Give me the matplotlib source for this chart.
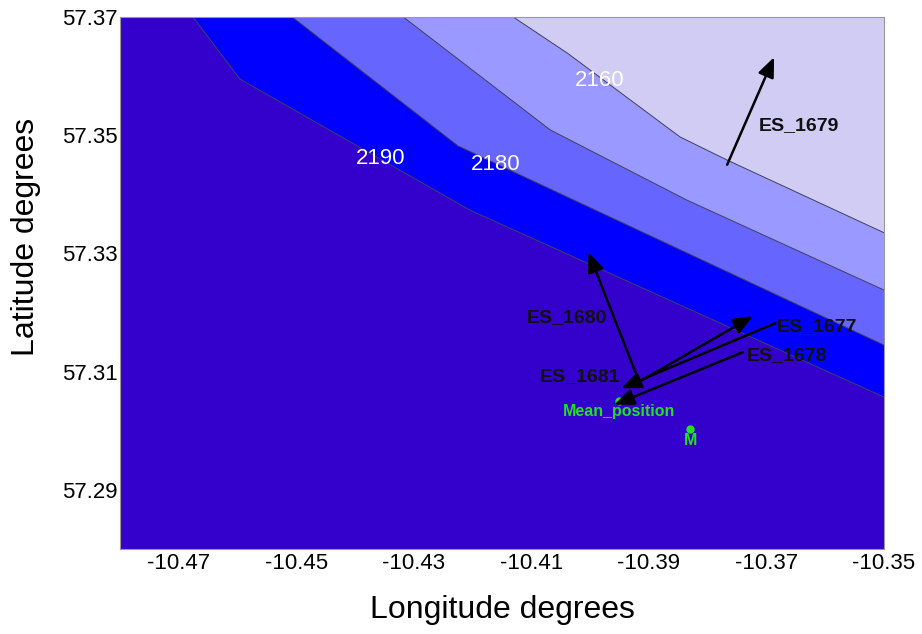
# coding=utf-8

import numpy as np
from matplotlib import pyplot as plt

plt.rcParams['font.family'] = ['Liberation Sans', 'DejaVu Sans']

lon_min, lon_max = -10.48, -10.35
lat_min, lat_max = 57.28, 57.37

# isobaths, each runs from the top edge to the right edge
iso_2190_lon = [-10.4676, -10.4596, -10.4204, -10.35]
iso_2190_lat = [57.37, 57.3595, 57.3373, 57.3057]
iso_2180_lon = [-10.4507, -10.4225, -10.35]
iso_2180_lat = [57.37, 57.3482, 57.3145]
iso_2170_lon = [-10.4318, -10.4068, -10.3835, -10.35]
iso_2170_lat = [57.37, 57.3509, 57.3390, 57.3238]
iso_2160_lon = [-10.4131, -10.4039, -10.3847, -10.3767, -10.35]
iso_2160_lat = [57.37, 57.3639, 57.3497, 57.3458, 57.3335]

band_colors = ['#3300CC', '#0000FF', '#6666FF', '#9999FF', '#D0CCF4']

contour_labels = ['2190', '2180', '2160']
contour_label_lon = [-10.4356, -10.4160, -10.3983]
contour_label_lat = [57.3460, 57.3450, 57.3593]

# displacement vectors
es_names = ['ES_1679', 'ES_1680', 'ES_1681', 'ES_1677', 'ES_1678']
es_tail_lon = [-10.3767, -10.3923, -10.3927, -10.3685, -10.3740]
es_tail_lat = [57.3450, 57.3099, 57.3077, 57.3182, 57.3133]
es_head_lon = [-10.3687, -10.4003, -10.3723, -10.3947, -10.3959]
es_head_lat = [57.3632, 57.3302, 57.3194, 57.3072, 57.3044]
es_label_lon = [-10.3714, -10.3971, -10.3949, -10.3682, -10.3733]
es_label_lat = [57.3517, 57.3192, 57.3091, 57.3177, 57.3128]
es_label_ha = ['left', 'right', 'right', 'left', 'left']

# green points
pt_names = ['Mean_position', 'M']
pt_lon = [-10.3951, -10.3830]
pt_lat = [57.3050, 57.3003]
pt_label_lat = [57.3032, 57.2984]

x_ticks = [-10.47, -10.45, -10.43, -10.41, -10.39, -10.37, -10.35]
y_ticks = [57.29, 57.31, 57.33, 57.35, 57.37]


def plot_bathy(ax):
    ax.set_facecolor(band_colors[0])
    iso_lon = [iso_2190_lon, iso_2180_lon, iso_2170_lon, iso_2160_lon]
    iso_lat = [iso_2190_lat, iso_2180_lat, iso_2170_lat, iso_2160_lat]
    for i in range(len(iso_lon)):
        x = iso_lon[i] + [lon_max]
        y = iso_lat[i] + [lat_max]
        ax.fill(x, y, color=band_colors[i + 1], lw=0, zorder=1)
        ax.plot(iso_lon[i], iso_lat[i], color='#404060', lw=0.7, zorder=2)
    for i in range(len(contour_labels)):
        ax.text(contour_label_lon[i], contour_label_lat[i], contour_labels[i],
                color='white', fontsize=16, ha='center', va='center', zorder=3)


def plot_vectors(ax):
    for i in range(len(es_names)):
        ax.annotate('', xy=(es_head_lon[i], es_head_lat[i]),
                    xytext=(es_tail_lon[i], es_tail_lat[i]),
                    arrowprops=dict(arrowstyle='-|>,head_length=0.6,head_width=0.25',
                                    color='black', lw=1.8, mutation_scale=20,
                                    shrinkA=0, shrinkB=0),
                    zorder=4)
        ax.text(es_label_lon[i], es_label_lat[i], es_names[i], fontsize=14,
                fontweight='bold', color='#111111', ha=es_label_ha[i],
                va='center', zorder=5)
    ax.plot(pt_lon, pt_lat, 'o', color='#22E022', ms=5, zorder=3)
    for i in range(len(pt_names)):
        ax.text(pt_lon[i], pt_label_lat[i], pt_names[i], fontsize=11.5,
                fontweight='bold', color='#22E022', ha='center', va='center',
                zorder=5)


def main():
    fig = plt.figure(figsize=(9.22, 6.34), dpi=100)
    ax = fig.add_axes([0.1302, 0.1341, 0.8286, 0.8391])
    plot_bathy(ax)
    plot_vectors(ax)

    ax.set_xlim(lon_min, lon_max)
    ax.set_ylim(lat_min, lat_max)
    ax.set_xticks(x_ticks)
    ax.set_xticklabels(['%.2f' % v for v in x_ticks])
    ax.set_yticks(y_ticks)
    ax.set_yticklabels(['%.2f' % v for v in y_ticks])
    ax.tick_params(axis='x', length=0, labelsize=16, pad=3)
    ax.tick_params(axis='y', length=0, labelsize=16, pad=1.5)
    for s in ax.spines.values():
        s.set_color('#999999')
        s.set_linewidth(0.8)

    ax.set_xlabel('Longitude degrees', fontsize=23)
    ax.set_ylabel('Latitude degrees', fontsize=23)
    ax.xaxis.set_label_coords(0.5, -0.086)
    ax.yaxis.set_label_coords(-0.103, 0.586)

    fig.savefig('out.png', dpi=100)


if __name__ == '__main__':
    main()
